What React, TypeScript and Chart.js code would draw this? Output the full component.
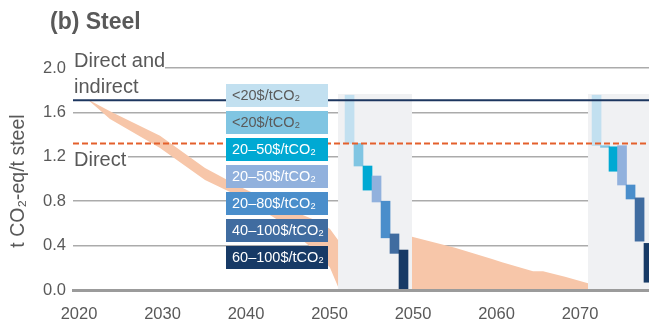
import React, { useEffect, useRef } from "react";
import { Chart, registerables } from "chart.js";

Chart.register(...registerables);

const REGULAR = '"Liberation Sans", "DejaVu Sans", sans-serif';
const TEXT = "#595959";

// ---- axes ----
const tickLabels = ["2020", "2030", "2040", "2050", "2050", "2060", "2070"];
const X_MIN = -0.072;
const X_MAX = 6.826;
const yTicks = [0, 0.4, 0.8, 1.2, 1.6, 2.0];

// ---- reference levels ----
const directAndIndirect = 1.71;
const directOnly = 1.32;

// ---- orange pathway range (x in tick-slot units) ----
const bandX = [0.096, 0.371, 0.97, 1.509, 1.928, 2.407, 2.862, 3.006, 3.102, 3.545, 3.988, 4.503, 4.946, 5.066, 5.437, 5.557, 5.82, 6.096];
const bandUpper = [1.72, 1.61, 1.39, 1.1, 0.93, 0.76, 0.62, 0.55, 0.45, 0.46, 0.48, 0.38, 0.28, 0.25, 0.17, 0.17, 0.12, 0.06];
const bandLower = [1.72, 1.54, 1.28, 0.99, 0.84, 0.62, 0.33, 0.2, 0.03, 0, 0, 0, 0, 0, 0, 0, 0, 0];

// ---- grey inset panels ----
const panelA = [3.102, 3.988];
const panelB = [6.096, 6.95];
const panelTop = 1.765;

// ---- abatement steps ----
const stepLabels = ["<20$/tCO₂", "<20$/tCO₂", "20–50$/tCO₂", "20–50$/tCO₂", "20–80$/tCO₂", "40–100$/tCO₂", "60–100$/tCO₂"];
const stepColors = ["#c2e0f0", "#80c5e2", "#00a9d3", "#91b1dd", "#4a8ecb", "#406ca0", "#173a66"];
const stepTextColors = ["#5a5a5a", "#5a5a5a", "#ffffff", "#ffffff", "#ffffff", "#ffffff", "#ffffff"];

const stepsAX = [3.24, 3.347, 3.455, 3.563, 3.671, 3.778, 3.886];
const stepsALow = [1.32, 1.117, 0.9, 0.793, 0.47, 0.33, 0];
const stepsAHigh = [1.755, 1.32, 1.117, 1.027, 0.8, 0.505, 0.36];
const stepsBX = [6.198, 6.299, 6.401, 6.503, 6.605, 6.713, 6.82];
const stepsBLow = [1.3, 1.285, 1.07, 0.946, 0.82, 0.44, 0.07];
const stepsBHigh = [1.755, 1.3, 1.29, 1.3, 0.946, 0.83, 0.42];

const maskPlugin = {
  id: "textMasks",
  beforeDatasetsDraw(chart: any) {
    const ctx = chart.ctx;
    const y = chart.scales.y;
    ctx.save();
    ctx.fillStyle = "#ffffff";
    const left = chart.chartArea.left;
    ctx.fillRect(left - 1, y.getPixelForValue(2.0) - 4, 93, 8);
    ctx.fillRect(left - 1, y.getPixelForValue(1.2) - 4, 56, 8);
    ctx.restore();
  },
};

const annotationPlugin = {
  id: "annotations",
  afterDraw(chart: any) {
    const ctx = chart.ctx;
    ctx.save();
    // title
    ctx.fillStyle = TEXT;
    ctx.textAlign = "left";
    ctx.textBaseline = "alphabetic";
    ctx.font = `bold 23px ${REGULAR}`;
    ctx.fillText("(b) Steel", 50, 29);

    // level labels
    ctx.font = `20px ${REGULAR}`;
    ctx.fillText("Direct and", 74, 67);
    ctx.fillText("indirect", 74, 93);
    ctx.fillText("Direct", 74, 166);

    // y-axis title
    ctx.save();
    ctx.translate(19, 181);
    ctx.rotate(-Math.PI / 2);
    ctx.textAlign = "center";
    ctx.textBaseline = "middle";
    ctx.font = `19.5px ${REGULAR}`;
    ctx.fillText("t CO₂-eq/t steel", 0, 0);
    ctx.restore();

    // cost legend boxes
    const tops = [84, 111, 138, 165, 192, 219, 246];
    ctx.font = `14.5px ${REGULAR}`;
    ctx.textBaseline = "middle";
    stepLabels.forEach((lab, i) => {
      ctx.fillStyle = stepColors[i];
      ctx.fillRect(226, tops[i], 102, 23);
      ctx.fillStyle = stepTextColors[i];
      ctx.fillText(lab, 232, tops[i] + 12);
    });
    ctx.restore();
  },
};

export default function App() {
  const ref = useRef<HTMLCanvasElement | null>(null);

  useEffect(() => {
    if (!ref.current) return;
    const pts = (xs: number[], ys: number[]) => xs.map((x, i) => ({ x, y: ys[i] }));
    const stepData = [
      ...stepsAX.map((x, i) => ({ x, y: [stepsALow[i], stepsAHigh[i]] })),
      ...stepsBX.map((x, i) => ({ x, y: [stepsBLow[i], stepsBHigh[i]] })),
    ];
    const chart = new Chart(ref.current, {
      type: "line",
      data: {
        datasets: [
          {
            data: pts(bandX, bandUpper),
            borderWidth: 0,
            pointRadius: 0,
            fill: "+1",
            backgroundColor: "#f7c6a9",
            order: 4,
          } as any,
          {
            data: pts(bandX, bandLower),
            borderWidth: 0,
            pointRadius: 0,
            fill: false,
            order: 4,
          },
          {
            data: pts(panelA, [panelTop, panelTop]),
            borderWidth: 0,
            pointRadius: 0,
            fill: "origin",
            backgroundColor: "#f0f1f3",
            order: 3,
          },
          {
            data: pts(panelB, [panelTop, panelTop]),
            borderWidth: 0,
            pointRadius: 0,
            fill: "origin",
            backgroundColor: "#f0f1f3",
            order: 3,
          },
          {
            type: "bar",
            data: stepData,
            backgroundColor: [...stepColors, ...stepColors],
            borderWidth: 0,
            barThickness: 9,
            grouped: false,
            order: 2,
          } as any,
          {
            data: pts([X_MIN, X_MAX], [directAndIndirect, directAndIndirect]),
            borderColor: "#1c365f",
            borderWidth: 2,
            pointRadius: 0,
            fill: false,
            order: 1,
          },
          {
            data: pts([X_MIN, X_MAX], [directOnly, directOnly]),
            borderColor: "#e4602c",
            borderWidth: 2,
            borderDash: [6, 3],
            pointRadius: 0,
            fill: false,
            order: 1,
          },
        ],
      },
      options: {
        animation: false,
        responsive: false,
        devicePixelRatio: 1,
        layout: { padding: { top: 68, left: 0, right: 0, bottom: 0 } },
        plugins: { legend: { display: false }, tooltip: { enabled: false }, title: { display: false } },
        scales: {
          x: {
            type: "linear",
            min: X_MIN,
            max: X_MAX,
            offset: false,
            afterBuildTicks: (s: any) => {
              s.ticks = tickLabels.map((_, i) => ({ value: i }));
            },
            afterFit: (s: any) => {
              s.height = 35;
            },
            grid: { display: false, drawTicks: false },
            border: { display: true, color: "#9b9b9b", width: 3, z: 1 },
            ticks: {
              autoSkip: false,
              maxRotation: 0,
              padding: 15,
              color: TEXT,
              font: { family: REGULAR, size: 16.5 },
              callback: (_v: any, i: number) => tickLabels[i],
            },
          },
          y: {
            type: "linear",
            min: 0,
            max: 2,
            afterBuildTicks: (s: any) => {
              s.ticks = yTicks.map((v) => ({ value: v }));
            },
            afterFit: (s: any) => {
              s.width = 73;
            },
            border: { display: false },
            grid: {
              drawTicks: false,
              lineWidth: 1.5,
              color: (c: any) => (c.tick && c.tick.value === 0 ? "rgba(0,0,0,0)" : "#ababab"),
            },
            ticks: {
              padding: 7,
              color: TEXT,
              font: { family: REGULAR, size: 16.5 },
              callback: (v: any) => Number(v).toFixed(1),
            },
          },
        },
      } as any,
      plugins: [maskPlugin, annotationPlugin],
    });
    return () => chart.destroy();
  }, []);

  return (
    <div style={{ position: "absolute", left: 0, top: 0, width: 649, height: 325, background: "#fff" }}>
      <canvas ref={ref} width={649} height={325} style={{ display: "block" }} />
    </div>
  );
}
